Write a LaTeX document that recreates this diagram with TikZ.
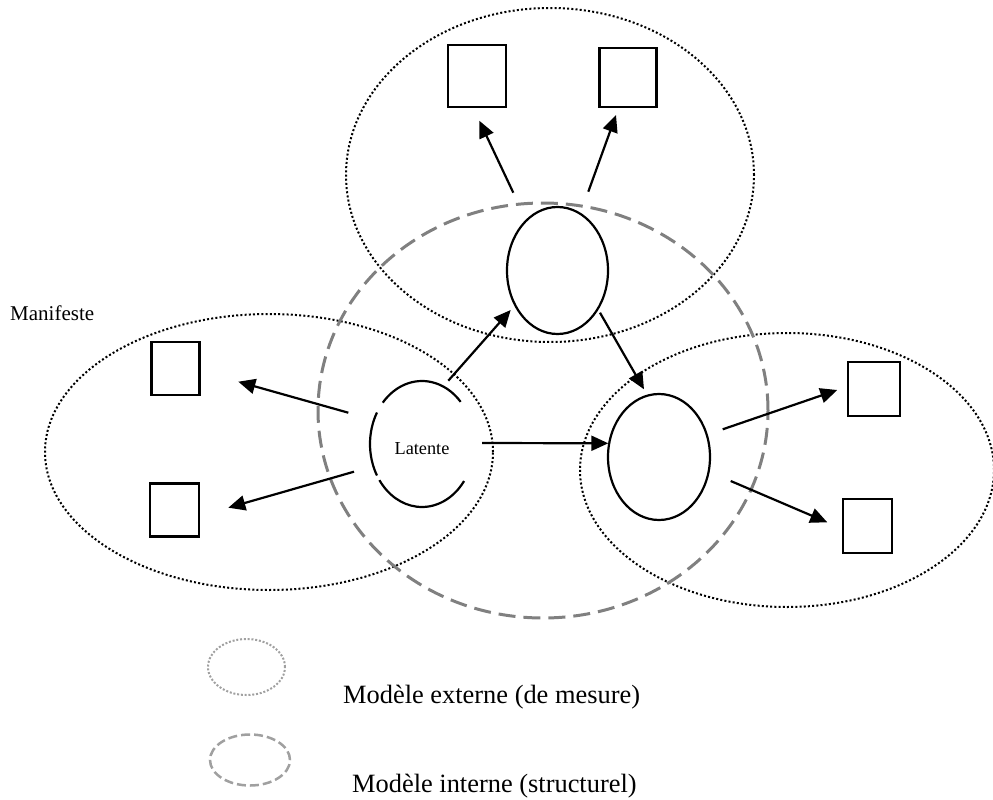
\documentclass[tikz,border=0pt]{standalone}
\usepackage{fontspec}
\setmainfont{Liberation Serif}
\usetikzlibrary{shapes.geometric,arrows.meta,calc}
\definecolor{structgray}{RGB}{128,128,128}
\definecolor{legendgray}{RGB}{160,160,160}
\begin{document}
\begin{tikzpicture}[x=1pt,y=-1pt,
  latent/.style={ellipse, draw, line width=2.2pt, inner sep=0pt, fill=white},
  manifest/.style={rectangle, draw, line width=2.2pt, inner sep=0pt},
  extern/.style={ellipse, draw, line width=2pt, dash pattern=on 2pt off 2.2pt, inner sep=0pt},
  intern/.style={ellipse, draw=structgray, line width=3pt, dash pattern=on 17pt off 8pt, inner sep=0pt},
  arr/.style={line width=2.2pt, -{Triangle[length=17pt,width=15pt]}},
  legtext/.style={anchor=base west, inner sep=0pt, font=\fontsize{26.4}{30}\selectfont},
]
\useasboundingbox (0,0) rectangle (993,800);

% measurement (outer) models: dotted ellipses
\node[extern, minimum width=408pt, minimum height=334pt] (mtop) at (550,175) {};
\node[extern, minimum width=448pt, minimum height=276pt] (mleft) at (269,452) {};
\node[extern, minimum width=414pt, minimum height=274pt] (mright) at (787,470) {};

% structural (inner) model: dashed ellipse
\node[intern, minimum width=450pt, minimum height=415pt] (mstruct) at (543,410.5) {};

% latent variables
\node[latent, minimum width=101pt, minimum height=127pt] (ltop) at (557.5,270.5) {};
\node[latent, minimum width=102pt, minimum height=126pt] (lright) at (659,457) {};
\node[ellipse, inner sep=0pt, minimum width=104pt, minimum height=126pt,
      font=\fontsize{18.3}{22}\selectfont] (lat) at (422,444)
      {\raisebox{-5pt}[\height][0pt]{Latente}};
% outline of the labelled latent, broken where the label box sits
\begin{scope}[line width=2.2pt]
  \draw (lat.center) ++(36:52 and 63) arc[start angle=36, end angle=145, x radius=52, y radius=63];
  \draw (lat.center) ++(150:52 and 63) arc[start angle=150, end angle=210, x radius=52, y radius=63];
  \draw (lat.center) ++(221:52 and 63) arc[start angle=221, end angle=318, x radius=52, y radius=63];
\end{scope}

% manifest variables
\node[manifest, minimum width=58pt, minimum height=62pt] (sqA) at (476.8,75.8) {};
\node[manifest, minimum width=57pt, minimum height=59pt] (sqB) at (628,77.2) {};
\node[manifest, minimum width=48pt, minimum height=53pt] (sqC) at (175.5,368.3) {};
\node[manifest, minimum width=49pt, minimum height=53pt] (sqD) at (174.7,510) {};
\node[manifest, minimum width=52pt, minimum height=54pt] (sqE) at (874.2,388.7) {};
\node[manifest, minimum width=49pt, minimum height=54pt] (sqF) at (867.8,525.8) {};

% arrows
\draw[arr] ($(ltop)+(-44.2,-77.8)$) -- ($(sqA)+(2.5,44.9)$);
\draw[arr] ($(ltop)+(30.8,-78.8)$) -- ($(sqB)+(-12,37.8)$);
\draw[arr] ($(ltop)+(42.5,42.2)$) -- ($(lright)+(-15,-67.7)$);
\draw[arr] ($(lat)+(26.3,-63.3)$) -- ($(ltop)+(-46.8,39.5)$);
\draw[arr] ($(lat)+(60,-1)$) -- ($(lright)+(-50.7,-13.7)$);
\draw[arr] ($(lat)+(-73.7,-31.3)$) -- ($(sqC)+(62.8,13.4)$);
\draw[arr] ($(lat)+(-68,27.7)$) -- ($(sqD)+(53.6,-2.3)$);
\draw[arr] ($(lright)+(63.7,-27.7)$) -- ($(sqE)+(-36.9,1.3)$);
\draw[arr] ($(lright)+(71.7,24)$) -- ($(sqF)+(-40.5,-3.5)$);

% labels
\node[anchor=base west, inner sep=0pt, font=\fontsize{21}{25}\selectfont] (manif) at (10,320) {Manifeste};

% legend
\node[ellipse, draw=legendgray, line width=2pt, dash pattern=on 2pt off 1.8pt,
      inner sep=0pt, minimum width=77pt, minimum height=56pt] (legext) at (246.5,667) {};
\node[ellipse, draw=legendgray, line width=2.5pt, dash pattern=on 9pt off 4pt,
      inner sep=0pt, minimum width=80pt, minimum height=51pt] (legint) at (250,760) {};
\node[legtext] (legexttext) at (343,703) {Modèle externe (de mesure)};
\node[legtext] (leginttext) at (352,792) {Modèle interne (structurel)};
\end{tikzpicture}
\end{document}
